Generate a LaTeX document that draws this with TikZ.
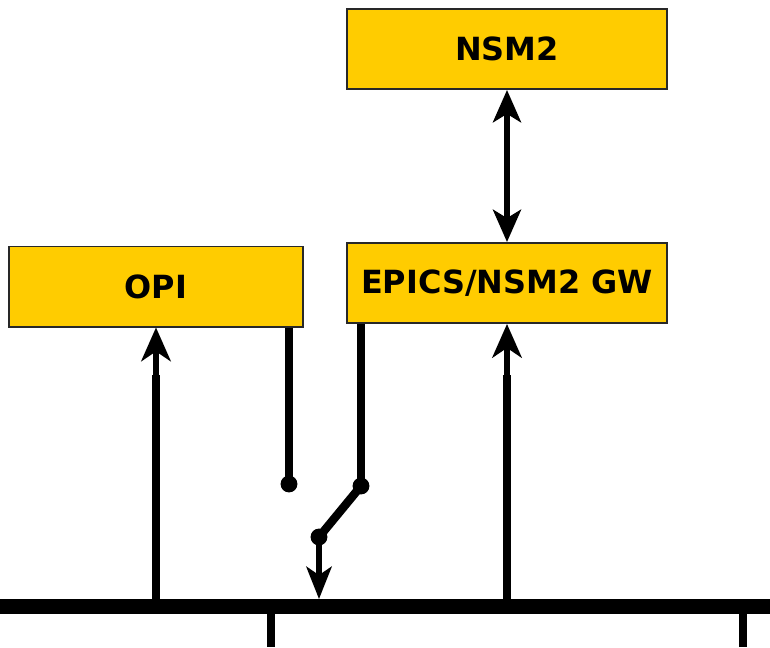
\documentclass[tikz,border=0pt]{standalone}
\usepackage{fontspec}
\setsansfont{DejaVu Sans}
\usepackage{xcolor}
\usepackage{tikz}
\usetikzlibrary{
  arrows.meta,
  positioning
}
\definecolor{unityellow}{RGB}{255, 204, 0}
\definecolor{unitedge}{RGB}{40, 40, 40}
\tikzset{
  unitbox/.style={rectangle,draw=unitedge,line width=1.4pt,fill=unityellow,
    font=\sffamily\bfseries\fontsize{22.7}{26}\selectfont,minimum height=2cm},
  wire/.style={line width=6pt},
  feed/.style={line width=3.6pt,-{Stealth[length=24pt,width=21pt,inset=7pt]}},
  thinfeed/.style={line width=3.6pt,-{Stealth[length=23pt,width=18pt,inset=6pt]}},
  duplex/.style={line width=3.6pt,{Stealth[length=23pt,width=20pt,inset=6pt]}-{Stealth[length=23pt,width=20pt,inset=6pt]}},
  contact/.style={circle,fill=black,inner sep=0pt,minimum size=12pt}
}

\begin{document}
\begin{tikzpicture}[x=0.025cm,y=-0.025cm]
\useasboundingbox (0,0) rectangle (770,647);
% units
\node[unitbox,minimum width=8cm](nsm) at (507,49){NSM2};
\node[unitbox,minimum width=7.35cm](opi) at (156,286.5){OPI};
\node[unitbox,minimum width=8cm](gw) at (507,283){EPICS/NSM2 GW};
\draw[duplex](nsm.south)--(gw.north);
% bus
\coordinate(busL) at (0,606.5);
\coordinate(busR) at (770,606.5);
\coordinate(bustop) at (0,599);
\coordinate(neck) at (0,375);
\draw[line width=10pt](busL)--(busR);
\coordinate(drop1) at (271,647);
\coordinate(drop2) at (743,647);
\draw[wire](drop1 |- busL)--(drop1);
\draw[wire](drop2 |- busL)--(drop2);
% taps up to the units
\draw[wire](opi.south |- busL)--(opi.south |- neck);
\draw[feed](opi.south |- busL)--(opi.south);
\draw[wire](gw.south |- busL)--(gw.south |- neck);
\draw[feed](gw.south |- busL)--(gw.south);
% switch
\node[contact](c1) at (289,484){};
\node[contact](c2) at (361,486){};
\node[contact](c3) at (319,537){};
\draw[wire](opi.south -| c1)--(c1.center);
\draw[wire](gw.south -| c2)--(c2.center);
\draw[wire](c2.center)--(c3.center);
\draw[thinfeed](c3.center)--(c3 |- bustop);
\end{tikzpicture}
\end{document}
